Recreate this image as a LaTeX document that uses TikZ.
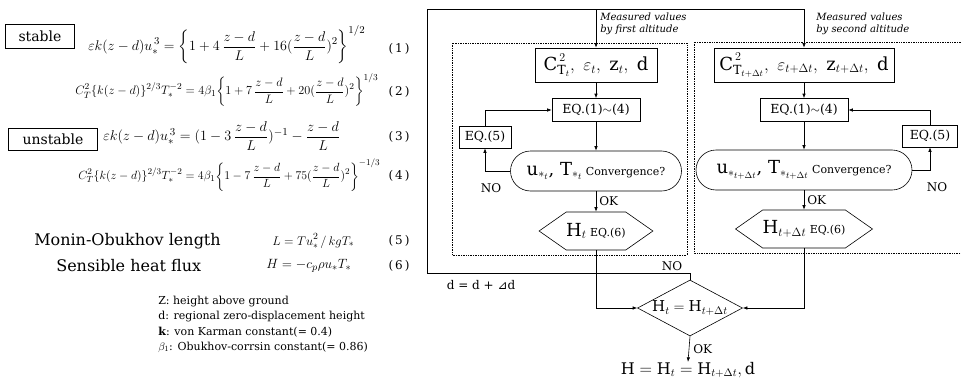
\documentclass[tikz,border=0pt]{standalone}
\usepackage{amsmath}
\usepackage{graphicx}
\usepackage{fontspec}
\setmainfont{DejaVu Serif}
\newfontfamily\symfont{DejaVu Sans}
\usetikzlibrary{arrows.meta,calc,positioning,shapes.misc,shapes.geometric,shapes.symbols}
\newcommand\fbig{\fontsize{18}{20}\selectfont}
\newcommand\eqbox[2]{\resizebox{#1pt}{!}{$\displaystyle #2$}}

\begin{document}
\begin{tikzpicture}[x=1pt,y=-1pt,line width=0.6pt,font=\fontsize{12.5}{14}\selectfont,
 box/.style={draw,inner sep=0pt},
 arr/.style={-{Latex[length=4.5pt,width=3.5pt]}},
 zone/.style={densely dotted,line width=0.7pt},
 eqn/.style={anchor=west,inner sep=0pt},
 big/.style={font=\fbig},
 lbl/.style={inner sep=0pt,font=\fontsize{12}{14}\selectfont}]
\useasboundingbox (0,0) rectangle (961,380);
% left: classes, equations (1)-(6), symbols
\node[box,minimum width=69,minimum height=24,font=\fontsize{14}{16}\selectfont] (stab) at (40,36) {stable};
\node[box,minimum width=89,minimum height=22,font=\fontsize{14}{16}\selectfont] (unstab) at (53,139) {unstable};
\node[eqn] (eqa) at (88,45) {\eqbox{277}{\varepsilon k(z-d)u_*^{\,3}=\biggl\{1+4\,\frac{z-d}{L}+16(\frac{z-d}{L})^2\biggr\}^{1/2}}};
\node[eqn] (eqb) at (75,90) {\eqbox{303}{C_T^2\{k(z-d)\}^{2/3}T_*^{-2}=4\beta_1\biggl\{1+7\,\frac{z-d}{L}+20(\frac{z-d}{L})^2\biggr\}^{1/3}}};
\node[eqn] (eqc) at (103,136) {\eqbox{237}{\varepsilon k(z-d)u_*^{\,3}=(1-3\,\frac{z-d}{L})^{-1}-\frac{z-d}{L}}};
\node[eqn] (eqd) at (78,175) {\eqbox{302}{C_T^2\{k(z-d)\}^{2/3}T_*^{-2}=4\beta_1\biggl\{1-7\,\frac{z-d}{L}+75(\frac{z-d}{L})^2\biggr\}^{-1/3}}};
\foreach \yy/\nn in {49/1,92/2,137/3,176/4,241/5,266/6}
 \node[lbl] (num\nn) at (399,\yy) {(\,\nn\,)};
\node[anchor=west,inner sep=0pt,font=\fontsize{16}{18}\selectfont] (monin) at (34,241) {Monin-Obukhov length};
\node[anchor=west,inner sep=0pt,font=\fontsize{16}{18}\selectfont] (sens) at (56,266) {Sensible heat flux};
\node[eqn] (eqe) at (272,241) {\eqbox{82}{L=Tu_*^2\,/\,kgT_*}};
\node[eqn] (eqf) at (266,266) {\eqbox{85}{H=-c_p\rho u_*T_*}};
\foreach \yy/\txt [count=\i] in {302/{Z: height above ground},317/{d: regional zero-displacement height},
 332/{\textbf{k}: von Karman constant(= 0.4)},347/{$\beta_1$: Obukhov-corrsin constant(= 0.86)}}
 \node[anchor=west,inner sep=0pt,font=\fontsize{11}{13}\selectfont] (sym\i) at (158,\yy) {\txt};

% right: flow chart for the two altitudes
\coordinate (topL) at (427,9);
\draw[zone] (452,43) rectangle (687,255);
\draw[zone] (961,42) -- (694,42) -- (694,253) -- (961,253);
\node[anchor=north west,inner sep=0pt,align=left,font=\itshape\fontsize{10}{12}\selectfont] (measA) at (600,13) {Measured values\\by first altitude};
\node[anchor=north west,inner sep=0pt,align=left,font=\itshape\fontsize{10}{12}\selectfont] (measB) at (816,13) {Measured values\\by second altitude};
\node[box,big,minimum width=122,minimum height=34] (cA) at (596,65) {$\mathrm{C}^{\,2}_{\mathrm{T}_t},\ \varepsilon_t,\ \mathrm{z}_t,\ \mathrm{d}$};
\node[box,big,minimum width=180,minimum height=34] (cB) at (804,65) {$\mathrm{C}^{\,2}_{\mathrm{T}_{t+\Delta t}},\ \varepsilon_{t+\Delta t},\ \mathrm{z}_{t+\Delta t},\ \mathrm{d}$};
\node[box,minimum width=88,minimum height=23] (eqA) at (596,110) {EQ.(1)$\sim$(4)};
\node[box,minimum width=88,minimum height=23] (eqB) at (804,110) {EQ.(1)$\sim$(4)};
\node[box,minimum width=52,minimum height=22] (fiveA) at (485,137) {EQ.(5)};
\node[box,minimum width=55,minimum height=22] (fiveB) at (930,136) {EQ.(5)};
\node[box,rounded rectangle,minimum width=171,minimum height=40,font=\fontsize{11}{13}\selectfont] (convA) at (596,171) {{\fbig $\mathrm{u}_{*_t}$, $\mathrm{T}_{*_t}$} Convergence?};
\node[box,rounded rectangle,minimum width=216,minimum height=40,font=\fontsize{11}{13}\selectfont] (convB) at (804,170) {{\fbig $\mathrm{u}_{*_{t+\Delta t}}$, $\mathrm{T}_{*_{t+\Delta t}}$} Convergence?};
\node[box,signal,signal to=west and east,signal pointer angle=70,minimum width=109,minimum height=38,font=\fontsize{11}{13}\selectfont] (hexA) at (596,231) {{\fbig $\mathrm{H}_t$} EQ.(6)};
\node[box,signal,signal to=west and east,signal pointer angle=70,minimum width=120,minimum height=38,font=\fontsize{11}{13}\selectfont] (hexB) at (804,229) {{\fbig $\mathrm{H}_{t+\Delta t}$} EQ.(6)};
\node[box,diamond,minimum width=105,minimum height=56] (dia) at (690,308) {};
\node[inner sep=0pt,font=\fontsize{15}{17}\selectfont] (diaT) at (dia) {$\mathrm{H}_t=\mathrm{H}_{t+\Delta t}$};
\node[inner sep=0pt,font=\fontsize{16}{18}\selectfont] (res) at (688,370) {$\mathrm{H}=\mathrm{H}_t=\mathrm{H}_{t+\Delta t},\mathrm{d}$};
\draw[arr] (dia.north) -- ++(0,-6) -| (topL) -| (cB.north);
\draw[arr] (cA.north |- topL) -- (cA.north);
\draw[arr] (cA.south) -- (eqA.north);
\draw[arr] (cB.south) -- (eqB.north);
\draw[arr] (eqA.south) -- (convA.north);
\draw[arr] (eqB.south) -- (convB.north);
\draw[arr] (convA.west) -| (fiveA.south);
\draw[arr] (convB.east) -| (fiveB.south);
\draw[arr] (fiveA.north) |- (eqA.west);
\draw[arr] (fiveB.north) |- (eqB.east);
\draw[arr] (convA.south) -- node[lbl,right=3pt] (okA) {OK} (hexA.north);
\draw[arr] (convB.south) -- node[lbl,right=3pt] (okB) {OK} (hexB.north);
\draw[arr] (hexA.south) |- (dia.west);
\draw[arr] (hexB.south) |- (dia.east);
\draw[arr] (dia.south) -- node[lbl,right=4pt] (okC) {OK} (res.north);
\node[lbl] (noA) at (491,188) {NO};
\node[lbl] (noB) at (937,187) {NO};
\node[lbl] (noC) at (672,266) {NO};
\node[lbl] (dstep) at (481,285) {d = d + {\symfont ⊿}d};
\end{tikzpicture}
\end{document}
